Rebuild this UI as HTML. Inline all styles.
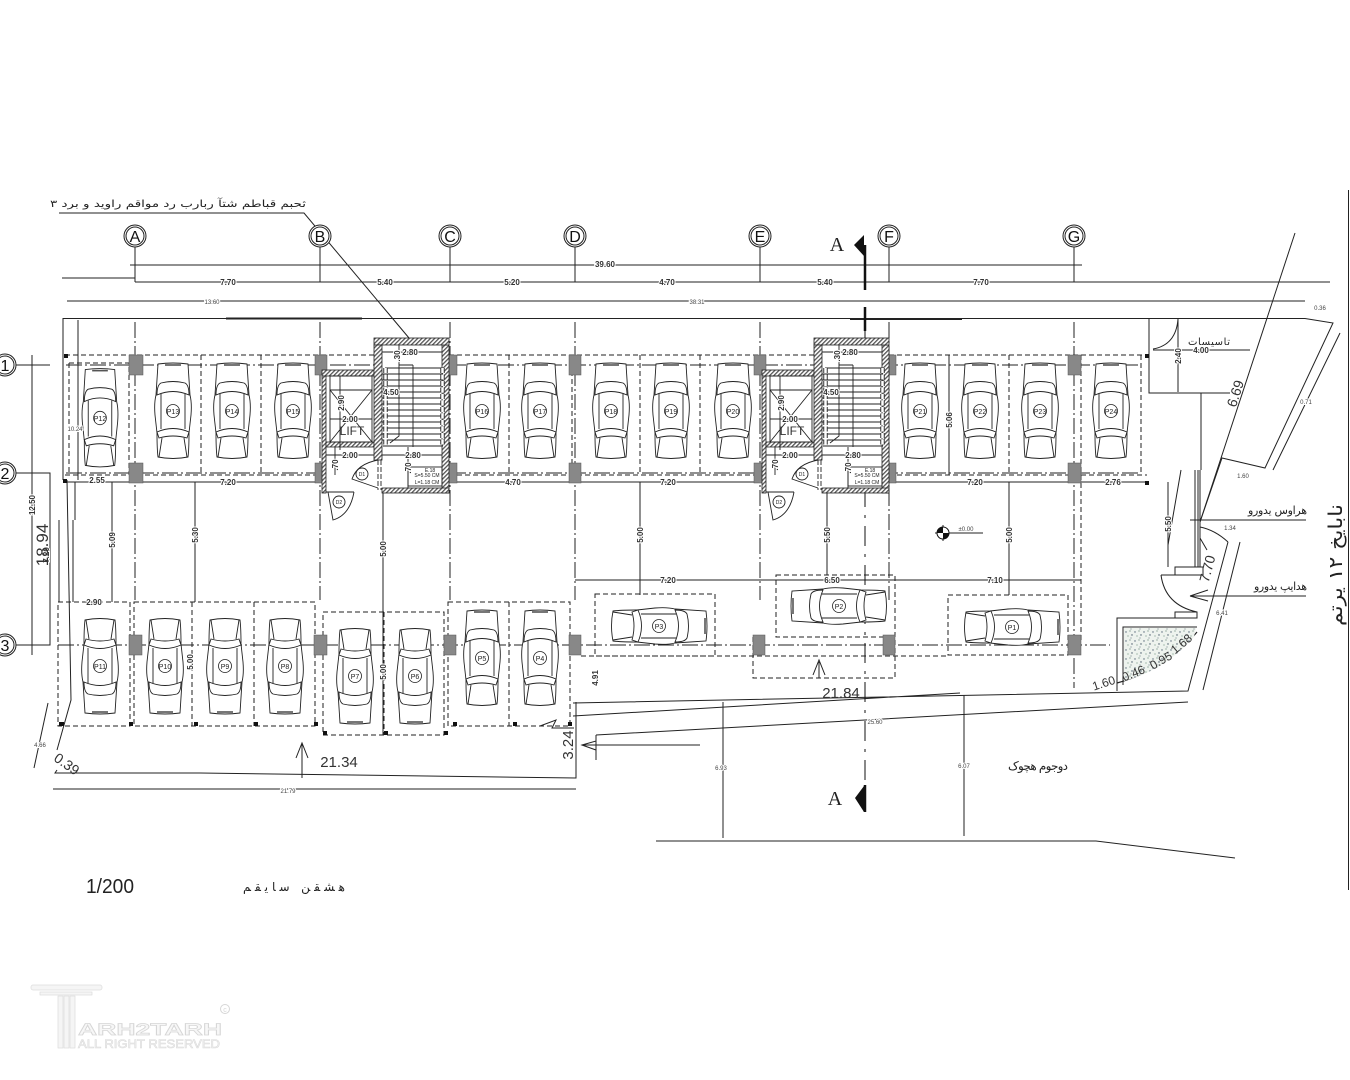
<!DOCTYPE html>
<html><head><meta charset="utf-8"><title>Parking plan</title>
<style>
html,body{margin:0;padding:0;background:#fff}
svg{display:block}
text{font-family:"Liberation Sans","DejaVu Sans",sans-serif;fill:#222}
.d{font-size:8px;font-weight:bold;text-anchor:middle;paint-order:stroke;stroke:#fff;stroke-width:2px;fill:#333}
.s{font-size:6px;text-anchor:middle;paint-order:stroke;stroke:#fff;stroke-width:2px;fill:#444}
.b{font-size:15px;text-anchor:middle;fill:#333}
.c{font-size:7px;text-anchor:middle;fill:#222}
.g{font-size:16px;text-anchor:middle;fill:#111}
.fa{font-family:"DejaVu Sans",sans-serif;unicode-bidi:bidi-override;direction:ltr;fill:#222}
</style></head><body>
<svg width="1350" height="1080" viewBox="0 0 1350 1080" xmlns="http://www.w3.org/2000/svg">
<defs>
<pattern id="h" width="3" height="3" patternUnits="userSpaceOnUse" patternTransform="rotate(45)"><rect width="3" height="3" fill="#fff"/><rect width="1.3" height="3" fill="#555"/></pattern>
<pattern id="sp" width="9" height="9" patternUnits="userSpaceOnUse"><rect width="9" height="9" fill="#eef3ee"/><circle cx="1" cy="2" r=".7" fill="#567"/><circle cx="5" cy="1" r=".6" fill="#687"/><circle cx="7" cy="5" r=".7" fill="#456"/><circle cx="3" cy="6" r=".6" fill="#798"/><circle cx="6" cy="8" r=".5" fill="#456"/></pattern>
<g id="car" fill="none" stroke="#222" stroke-width=".9">
<path d="M-15,-47Q0,-49 15,-47L17,-16Q19,-8 18,4L16,22Q16,38 15,46Q0,49 -15,46Q-16,38 -16,22L-18,4Q-19,-8 -17,-16Z" fill="#fff"/>
<path d="M-16,-16Q-16,-26 -12,-28Q0,-31 12,-28Q16,-26 16,-16Q0,-23 -16,-16Z"/>
<path d="M-12,-17L-12,18M12,-17L12,18"/>
<path d="M-16,21Q0,14 16,21L14,27Q0,23 -14,27Z"/>
<path d="M-11,27L-14,46M11,27L14,46"/>
<path d="M-8,-46L8,-46" stroke-width="1.600" stroke="#555"/>
<circle r="6.500" fill="#fff" stroke-width=".8"/>
</g>
</defs>

<!-- right edge -->
<path d="M1348.500,190V890" stroke="#222" stroke-width="1" fill="none"/>

<!-- top dimensions -->
<g stroke="#222" stroke-width="1" fill="none">
<path d="M130,265H1082M62,278H135M135,282H320L450,282H575H760H889H1074H1330M67,301H1305"/>
<path d="M63,318.500H1305L1333,323L1265,468L1222,458L1200,522"/>
<path d="M1295,233L1200,522M1340,333L1273,470"/>
<path d="M226,318.500H362M850,319H962" stroke-width="2"/>
<path d="M135,247V282M320,247V282M450,247V282M575,247V282M760,247V282M889,247V282M1074,247V282"/>
<path d="M59,213H304L409,338" stroke-width="1"/>
<!-- left dims -->
<path d="M16,365H50M16,473H50V602M16,645H50V535M32,355V655M78,320V480"/>
<path d="M63,318V480M75,482V520M59,520V602M67,480L71,700L57,750M73,520V602"/>
<path d="M48,703L34,768"/>
<path d="M57,770L55,773H200L576,778V702"/>
<path d="M53,789H576"/>
<!-- dims vertical -->
<path d="M112,482V602M195,482V602M383,492V735M640,482V595M827,482V575M1009,482V595M949,355V475"/>
<path d="M65,482H322M448,482H766M890,482H1147M575,580H1081"/>
<path d="M723,702V838M964,695V836"/>
<path d="M656,841H1096L1235,858"/>
<path d="M573,703L1188,691L1228,542M573,716L960,693M596,735L1188,702M1203,690L1240,542"/>
<path d="M1149,319V393H1230M1178,319V392M1153,350H1250"/>
<path d="M1178,319Q1176,345 1153,349"/>
<path d="M1201,393V470M1181,470L1168,545"/>
<!-- entrance -->
<path d="M1195,470V567M1198,470V567M1200,470V567M1168,482V567M1175,567H1203V575H1175ZM1161,575H1203M1161,575Q1165,605 1197,612M1175,612H1197V618H1175Z"/>
<path d="M1190,520H1306M1190,596H1306M1190,596L1208,590M1190,596L1208,601"/>
<path d="M1200,527Q1215,530 1228,542M1200,538L1207,550"/>
<path d="M1117,691V618H1196M1123,685V627H1197"/>
<path d="M1117,683Q1165,670 1197,632" stroke-width="1.200"/>
<!-- elevation -->
<path d="M935,533H983M943,525V541"/>
<!-- arrows -->
<path d="M302,778V743M296,758L302,743L308,758M819,678V662M813,675L819,660L825,675"/>
<path d="M540,726L556,720L552,728H574M582,745H700M582,745L596,741V750ZM596,735V760"/>
</g>

<!-- dash-dot grid -->
<g stroke="#222" stroke-width="1" fill="none" stroke-dasharray="16 3 2 3">
<path d="M135,322V600M320,322V600M450,322V600M575,322V600M760,322V600M889,322V600M1074,322V688"/>
<path d="M66,365H1140M66,473H1140M58,645H1110"/>
</g>
<g stroke="#222" stroke-width="1" fill="none" stroke-dasharray="5 3">
<path d="M65,355H374M449,355H814M889,355H1147"/>
<path d="M65,475H322M449,475H762M889,475H1147"/>
<path d="M201,355V475M261,355V475M509,355V475M572,355V475M640,355V475M700,355V475M949,355V475M1009,355V475M1141,355V475"/>
<path d="M69,363H129V475M69,363V475"/>
<path d="M1081,355V640"/>
<!-- lower stalls -->
<path d="M58,602H130V726H58ZM134,602H315V726H134ZM192,602V726M254,602V726"/>
<path d="M323,612H444V735H323ZM384,612V735"/>
<path d="M448,602H570V726H448ZM509,602V726"/>
<path d="M595,594H715V656H595Z"/>
<path d="M776,575H895V637H776ZM753,637V678H895V637"/>
<path d="M948,595H1068V655H948Z"/>
<path d="M581,656H948"/>
</g>

<!-- section line -->
<g stroke="#111" fill="none">
<path d="M865,245V290M865,307V331" stroke-width="2.500"/>
<path d="M865,331V780" stroke-width="1" stroke-dasharray="20 8 3 8"/>
<path d="M865,785V812" stroke-width="2.500"/>
</g>
<path d="M864,235V256L854,245Z M864,786V812L855,798Z" fill="#111"/>
<text x="837" y="251" style="font-family:'Liberation Serif',serif;font-size:20px;text-anchor:middle">A</text>
<text x="835" y="805" style="font-family:'Liberation Serif',serif;font-size:20px;text-anchor:middle">A</text>

<!-- columns -->
<g fill="#888" stroke="#555" stroke-width=".5">
<rect x="129" y="355" width="14" height="20"/><rect x="129" y="463" width="14" height="20"/><rect x="129" y="635" width="13" height="20"/>
<rect x="315" y="355" width="12" height="20"/><rect x="315" y="463" width="12" height="20"/><rect x="314" y="635" width="13" height="20"/>
<rect x="445" y="355" width="12" height="20"/><rect x="445" y="463" width="12" height="20"/><rect x="444" y="635" width="12" height="20"/>
<rect x="569" y="355" width="12" height="20"/><rect x="569" y="463" width="12" height="20"/><rect x="569" y="635" width="12" height="20"/>
<rect x="754" y="355" width="12" height="20"/><rect x="754" y="463" width="12" height="20"/><rect x="753" y="635" width="12" height="20"/>
<rect x="884" y="355" width="12" height="20"/><rect x="884" y="463" width="12" height="20"/><rect x="883" y="635" width="12" height="20"/>
<rect x="1068" y="355" width="13" height="20"/><rect x="1068" y="463" width="13" height="20"/><rect x="1068" y="635" width="13" height="20"/>
</g>
<g fill="#111">
<rect x="64" y="354" width="4" height="4"/><rect x="63" y="479" width="4" height="4"/>
<rect x="1145" y="354" width="4" height="4"/><rect x="1145" y="481" width="4" height="4"/>
<rect x="59" y="722" width="5" height="4"/><rect x="129" y="722" width="4" height="4"/><rect x="194" y="722" width="4" height="4"/><rect x="254" y="722" width="4" height="4"/><rect x="314" y="722" width="4" height="4"/>
<rect x="323" y="731" width="4" height="4"/><rect x="384" y="731" width="4" height="4"/><rect x="444" y="731" width="4" height="4"/>
<rect x="453" y="722" width="4" height="4"/><rect x="513" y="722" width="4" height="4"/><rect x="568" y="722" width="4" height="4"/>
</g>

<!-- core 1 -->
<g>
<rect x="326" y="376" width="116" height="112" fill="#fff"/>
<rect x="382" y="345" width="60" height="143" fill="#fff"/>
<g fill="url(#h)" stroke="#222" stroke-width=".8">
<rect x="442" y="345" width="7" height="148"/>
<rect x="374" y="338" width="75" height="7"/>
<rect x="322" y="370" width="52" height="6"/>
<rect x="322" y="376" width="4" height="117"/>
<rect x="326" y="442" width="48" height="5"/>
<rect x="374" y="345" width="8" height="115"/>
<rect x="382" y="488" width="67" height="5"/>
</g>
<g fill="none" stroke="#222" stroke-width=".9">
<rect x="330" y="376" width="42" height="66"/><path d="M330,390H372M330,390L372,442M372,390L330,442M330,419H372M340,376V450"/>
<path d="M399,365V436L390,443M413,365V447M399,365H413M385,368H443M383,446H443"/>
<path d="M382,374H443M382,380H443M382,386H443M382,392H443M382,398H443M382,404H443M382,410H443M382,416H443M382,422H443M382,428H443M382,434H443M382,440H443"/>
<path d="M382,352H442M399,345V365M326,455H374M382,455H442M335,447V475M408,447V488"/>
<path d="M378,460V490M381,460V490" stroke-dasharray="5 2"/>
<path d="M378,488L352,479Q357,464 378,460"/>
<path d="M328,492L333,520Q350,515 354,492M326,492H354" />
<circle cx="362" cy="474" r="6"/><circle cx="339" cy="502" r="6"/>
<rect x="408" y="467" width="34" height="19"/>
</g>
<path d="M385.500,368V446M442.500,368V446" stroke="#333" stroke-width="4.500" stroke-dasharray="5 1.500" fill="none"/>
<path d="M385.500,368V446M442.500,368V446" stroke="#fff" stroke-width="2.500" stroke-dasharray="5 1.500" fill="none"/>
</g>
<!-- core 2 -->
<g transform="translate(440,0)">
<rect x="326" y="376" width="116" height="112" fill="#fff"/>
<rect x="382" y="345" width="60" height="143" fill="#fff"/>
<g fill="url(#h)" stroke="#222" stroke-width=".8">
<rect x="442" y="345" width="7" height="148"/>
<rect x="374" y="338" width="75" height="7"/>
<rect x="322" y="370" width="52" height="6"/>
<rect x="322" y="376" width="4" height="117"/>
<rect x="326" y="442" width="48" height="5"/>
<rect x="374" y="345" width="8" height="115"/>
<rect x="382" y="488" width="67" height="5"/>
</g>
<g fill="none" stroke="#222" stroke-width=".9">
<rect x="330" y="376" width="42" height="66"/><path d="M330,390H372M330,390L372,442M372,390L330,442M330,419H372M340,376V450"/>
<path d="M399,365V436L390,443M413,365V447M399,365H413M385,368H443M383,446H443"/>
<path d="M382,374H443M382,380H443M382,386H443M382,392H443M382,398H443M382,404H443M382,410H443M382,416H443M382,422H443M382,428H443M382,434H443M382,440H443"/>
<path d="M382,352H442M399,345V365M326,455H374M382,455H442M335,447V475M408,447V488"/>
<path d="M378,460V490M381,460V490" stroke-dasharray="5 2"/>
<path d="M378,488L352,479Q357,464 378,460"/>
<path d="M328,492L333,520Q350,515 354,492M326,492H354"/>
<circle cx="362" cy="474" r="6"/><circle cx="339" cy="502" r="6"/>
<rect x="408" y="467" width="34" height="19"/>
</g>
<path d="M385.500,368V446M442.500,368V446" stroke="#333" stroke-width="4.500" stroke-dasharray="5 1.500" fill="none"/>
<path d="M385.500,368V446M442.500,368V446" stroke="#fff" stroke-width="2.500" stroke-dasharray="5 1.500" fill="none"/>
</g>

<!-- planter fill -->
<path d="M1124,628H1196L1194,637Q1165,670 1124,681Z" fill="url(#sp)"/>

<!-- cars upper -->
<use href="#car" transform="translate(100,418) scale(.98,1.030)"/>
<use href="#car" transform="translate(173,411)"/>
<use href="#car" transform="translate(232,411)"/>
<use href="#car" transform="translate(293,411)"/>
<use href="#car" transform="translate(482,411)"/>
<use href="#car" transform="translate(540,411)"/>
<use href="#car" transform="translate(611,411)"/>
<use href="#car" transform="translate(671,411)"/>
<use href="#car" transform="translate(733,411)"/>
<use href="#car" transform="translate(920,411)"/>
<use href="#car" transform="translate(980,411)"/>
<use href="#car" transform="translate(1040,411)"/>
<use href="#car" transform="translate(1111,411)"/>
<!-- cars lower -->
<use href="#car" transform="translate(100,666) scale(1,-1)"/>
<use href="#car" transform="translate(165,666) scale(1,-1)"/>
<use href="#car" transform="translate(225,666) scale(1,-1)"/>
<use href="#car" transform="translate(285,666) scale(1,-1)"/>
<use href="#car" transform="translate(355,676) scale(1,-1)"/>
<use href="#car" transform="translate(415,676) scale(1,-1)"/>
<use href="#car" transform="translate(482,658)"/>
<use href="#car" transform="translate(540,658)"/>
<use href="#car" transform="translate(659,626) rotate(90)"/>
<use href="#car" transform="translate(839,606) rotate(-90)"/>
<use href="#car" transform="translate(1012,627) rotate(90)"/>

<!-- car labels -->
<text class="c" x="100" y="421">P12</text><text class="c" x="173" y="414">P13</text><text class="c" x="232" y="414">P14</text><text class="c" x="293" y="414">P15</text>
<text class="c" x="482" y="414">P16</text><text class="c" x="540" y="414">P17</text><text class="c" x="611" y="414">P18</text><text class="c" x="671" y="414">P19</text><text class="c" x="733" y="414">P20</text>
<text class="c" x="920" y="414">P21</text><text class="c" x="980" y="414">P22</text><text class="c" x="1040" y="414">P23</text><text class="c" x="1111" y="414">P24</text>
<text class="c" x="100" y="669">P11</text><text class="c" x="165" y="669">P10</text><text class="c" x="225" y="669">P9</text><text class="c" x="285" y="669">P8</text>
<text class="c" x="355" y="679">P7</text><text class="c" x="415" y="679">P6</text><text class="c" x="482" y="661">P5</text><text class="c" x="540" y="661">P4</text>
<text class="c" x="659" y="629">P3</text><text class="c" x="839" y="609">P2</text><text class="c" x="1012" y="630">P1</text>

<!-- elevation marker -->
<circle cx="943" cy="533" r="6" fill="#fff" stroke="#111"/>
<path d="M943,533V527A6,6 0 0 0 937,533ZM943,533V539A6,6 0 0 0 949,533Z" fill="#111"/>
<text class="s" x="966" y="531">±0.00</text>

<!-- grid bubbles -->
<g fill="#fff" stroke="#222" stroke-width="1">
<circle cx="135" cy="236" r="11"/><circle cx="135" cy="236" r="9"/>
<circle cx="320" cy="236" r="11"/><circle cx="320" cy="236" r="9"/>
<circle cx="450" cy="236" r="11"/><circle cx="450" cy="236" r="9"/>
<circle cx="575" cy="236" r="11"/><circle cx="575" cy="236" r="9"/>
<circle cx="760" cy="236" r="11"/><circle cx="760" cy="236" r="9"/>
<circle cx="889" cy="236" r="11"/><circle cx="889" cy="236" r="9"/>
<circle cx="1074" cy="236" r="11"/><circle cx="1074" cy="236" r="9"/>
<circle cx="5" cy="365" r="11"/><circle cx="5" cy="365" r="9"/>
<circle cx="5" cy="473" r="11"/><circle cx="5" cy="473" r="9"/>
<circle cx="5" cy="645" r="11"/><circle cx="5" cy="645" r="9"/>
</g>
<text class="g" x="135" y="242">A</text><text class="g" x="320" y="242">B</text><text class="g" x="450" y="242">C</text><text class="g" x="575" y="242">D</text><text class="g" x="760" y="242">E</text><text class="g" x="889" y="242">F</text><text class="g" x="1074" y="242">G</text>
<text class="g" x="5" y="371">1</text><text class="g" x="5" y="479">2</text><text class="g" x="5" y="651">3</text>

<!-- dimensions -->
<text class="d" x="605" y="267">39.60</text>
<text class="d" x="228" y="285">7.70</text><text class="d" x="385" y="285">5.40</text><text class="d" x="512" y="285">5.20</text><text class="d" x="667" y="285">4.70</text><text class="d" x="825" y="285">5.40</text><text class="d" x="981" y="285">7.70</text>
<text class="s" x="212" y="304">13.60</text><text class="s" x="697" y="304">38.31</text><text class="s" x="1320" y="310">0.36</text>
<text class="d" x="97" y="483">2.55</text><text class="d" x="228" y="485">7.20</text><text class="d" x="513" y="485">4.70</text><text class="d" x="668" y="485">7.20</text><text class="d" x="975" y="485">7.20</text><text class="d" x="1113" y="485">2.76</text>
<text class="d" x="668" y="583">7.20</text><text class="d" x="832" y="583">6.50</text><text class="d" x="995" y="583">7.10</text>
<text class="d" x="94" y="605">2.90</text>
<text class="d" transform="translate(115,540) rotate(-90)">5.09</text>
<text class="d" transform="translate(198,535) rotate(-90)">5.30</text>
<text class="d" transform="translate(193,662) rotate(-90)">5.00</text>
<text class="d" transform="translate(386,549) rotate(-90)">5.00</text>
<text class="d" transform="translate(386,672) rotate(-90)">5.00</text>
<text class="d" transform="translate(643,535) rotate(-90)">5.00</text>
<text class="d" transform="translate(830,535) rotate(-90)">5.50</text>
<text class="d" transform="translate(1012,535) rotate(-90)">5.00</text>
<text class="d" transform="translate(952,420) rotate(-90)">5.06</text>
<text class="d" transform="translate(1171,524) rotate(-90)">5.50</text>
<text class="d" transform="translate(598,678) rotate(-90)">4.91</text>
<text class="d" transform="translate(35,505) rotate(-90)">12.50</text>
<text class="d" transform="translate(49,555) rotate(-90)">7.20</text>
<text class="s" x="75" y="431">10.24</text>
<text class="s" x="40" y="747">4.66</text>
<text class="s" x="288" y="793">21.79</text>
<text class="s" x="875" y="724">25.60</text>
<text class="s" transform="translate(721,770)">6.93</text>
<text class="s" transform="translate(964,768)">6.07</text>
<text class="s" x="1306" y="404">0.71</text>
<text class="s" x="1243" y="478">1.60</text>
<text class="s" x="1230" y="530">1.34</text>
<text class="s" x="1222" y="615">6.41</text>
<text class="d" x="1201" y="353">4.00</text>
<text class="d" transform="translate(1181,356) rotate(-90)">2.40</text>

<!-- core labels -->
<text class="d" x="410" y="355">2.80</text><text class="d" x="850" y="355">2.80</text>
<text class="d" transform="translate(400,356) rotate(-90)">.30</text><text class="d" transform="translate(840,356) rotate(-90)">.30</text>
<text class="d" x="391" y="395">4.50</text><text class="d" x="831" y="395">4.50</text>
<text class="d" transform="translate(344,403) rotate(-90)">2.90</text><text class="d" transform="translate(784,403) rotate(-90)">2.90</text>
<text class="d" x="350" y="422">2.00</text><text class="d" x="790" y="422">2.00</text>
<text x="352" y="435" style="font-size:12px;text-anchor:middle;fill:#333">LIFT</text><text x="792" y="435" style="font-size:12px;text-anchor:middle;fill:#333">LIFT</text>
<text class="d" x="350" y="458">2.00</text><text class="d" x="790" y="458">2.00</text>
<text class="d" x="413" y="458">2.80</text><text class="d" x="853" y="458">2.80</text>
<text class="d" transform="translate(338,465) rotate(-90)">.70</text><text class="d" transform="translate(778,465) rotate(-90)">.70</text>
<text class="d" transform="translate(411,468) rotate(-90)">.70</text><text class="d" transform="translate(851,468) rotate(-90)">.70</text>
<g style="font-size:5px;text-anchor:middle">
<text x="430" y="472">E.18</text><text x="427" y="477">S=5.50 CM</text><text x="427" y="484">L=1.18 CM</text>
<text x="870" y="472">E.18</text><text x="867" y="477">S=5.50 CM</text><text x="867" y="484">L=1.18 CM</text>
<text x="362" y="476">D1</text><text x="802" y="476">D1</text><text x="339" y="504">D2</text><text x="779" y="504">D2</text>
</g>

<!-- large labels -->
<text class="b" x="339" y="767">21.34</text>
<text class="b" x="841" y="698">21.84</text>
<text class="b" transform="translate(573,745) rotate(-90)">3.24</text>
<text class="b" transform="translate(48,545) rotate(-90)" style="font-size:17px">18.94</text>
<text class="b" transform="translate(64,768) rotate(35)" style="font-size:14px">0.39</text>
<text class="b" transform="translate(1240,395) rotate(-72)" style="font-size:14px">6.69</text>
<text class="b" transform="translate(1212,570) rotate(-75)" style="font-size:14px">7.70</text>
<g style="font-size:12px">
<text class="b" style="font-size:12px" transform="translate(1105,687) rotate(-18)">1.60</text>
<text class="b" style="font-size:12px" transform="translate(1135,677) rotate(-22)">0.46</text>
<text class="b" style="font-size:12px" transform="translate(1163,664) rotate(-30)">0.95</text>
<text class="b" style="font-size:12px" transform="translate(1184,647) rotate(-40)">1.68</text>
</g>
<text x="86" y="893" style="font-size:20px;fill:#222" textLength="48" lengthAdjust="spacingAndGlyphs">1/200</text>

<!-- Persian text -->
<text class="fa" x="50" y="207" font-size="10" textLength="256" lengthAdjust="spacingAndGlyphs">۳ درب و دیوار مقاوم در برابر آتش مطابق مبحث</text>
<text class="fa" x="243" y="891" font-size="12" textLength="102" lengthAdjust="spacing">مقیاس  نقشه</text>
<text class="fa" x="1008" y="770" font-size="12" textLength="60" lengthAdjust="spacing">کوچه موجود</text>
<text class="fa" x="1248" y="514" font-size="11" textLength="59" lengthAdjust="spacing">ورودی سواره</text>
<text class="fa" x="1254" y="590" font-size="11" textLength="53" lengthAdjust="spacing">ورودی پیاده</text>
<text class="fa" x="1188" y="345" font-size="10" textLength="42" lengthAdjust="spacing">تاسیسات</text>
<text class="fa" transform="translate(1342,626) rotate(-90)" font-size="19" textLength="122" lengthAdjust="spacingAndGlyphs">متری ۱۲ خیابان</text>

<!-- watermark -->
<g fill="#f5f5f5" stroke="#dcdcdc" stroke-width=".7">
<rect x="31" y="985" width="71" height="5" rx="2"/>
<rect x="40" y="992" width="52" height="3"/>
<rect x="58" y="996" width="5" height="52"/><rect x="64" y="996" width="5" height="52"/><rect x="70" y="996" width="5" height="52"/>
</g>
<text x="78" y="1035" textLength="144" lengthAdjust="spacingAndGlyphs" style="font-size:17px;font-weight:bold;fill:#f7f7f7;stroke:#d6d6d6;stroke-width:.7px">ARH2TARH</text>
<text x="78" y="1048" textLength="142" lengthAdjust="spacingAndGlyphs" style="font-size:12px;fill:#f7f7f7;stroke:#dadada;stroke-width:.6px">ALL RIGHT RESERVED</text>
<circle cx="225" cy="1009" r="4.500" fill="none" stroke="#d6d6d6"/>
<text x="225" y="1012" style="font-size:7px;text-anchor:middle;fill:#d6d6d6">c</text>
</svg>
</body></html>
